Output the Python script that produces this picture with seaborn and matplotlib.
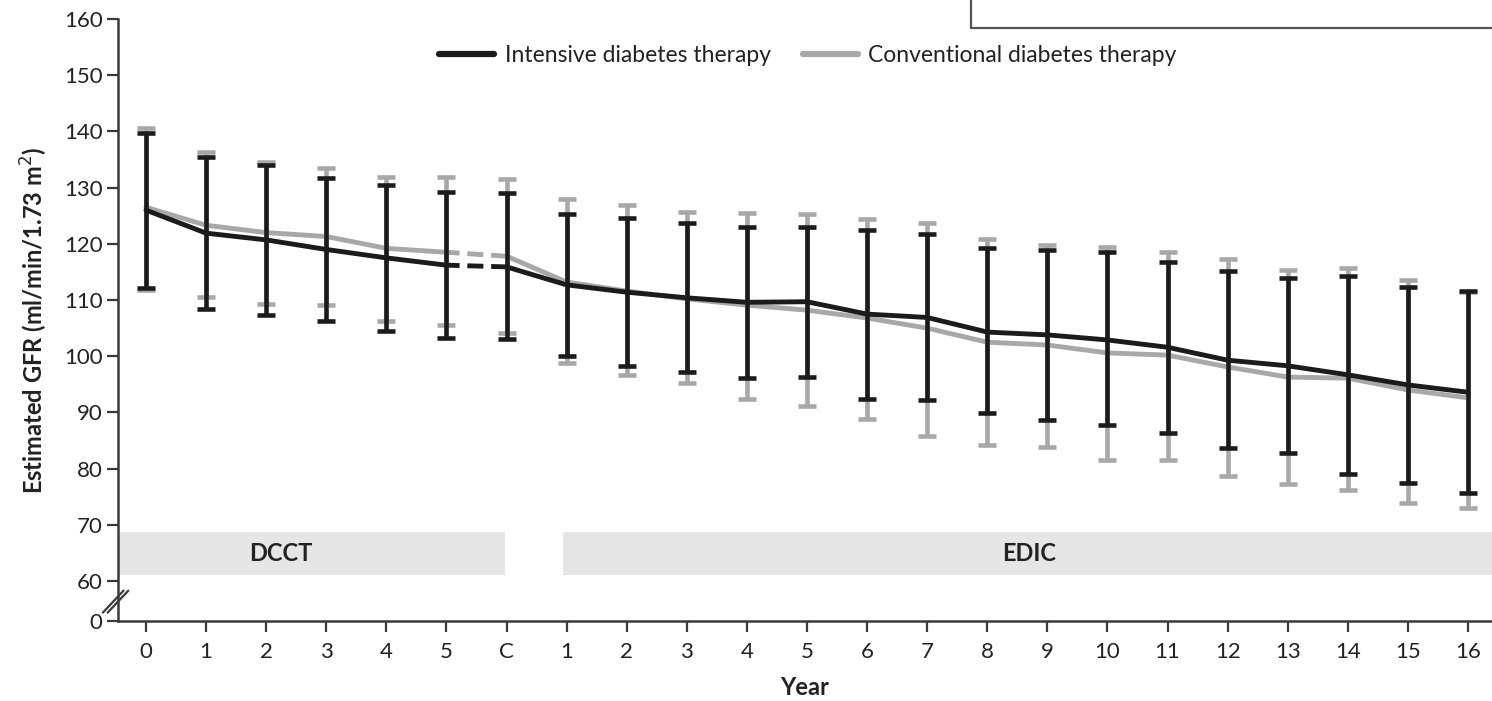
import numpy as np
import pandas as pd
import seaborn as sns
import matplotlib.pyplot as plt
from matplotlib.lines import Line2D
from matplotlib.patches import Rectangle
import matplotlib.transforms as mtransforms

# x positions: DCCT years 0-5, closeout (C), then EDIC years 1-16
year_labels = ["0", "1", "2", "3", "4", "5", "C"] + [str(i) for i in range(1, 17)]

intensive_mean = [126.0, 121.9, 120.7, 119.0, 117.5, 116.2, 115.9, 112.7, 111.4, 110.4, 109.6, 109.7,
                  107.5, 106.9, 104.3, 103.8, 102.9, 101.6, 99.3, 98.3, 96.7, 94.9, 93.6]
intensive_high = [139.7, 135.4, 134.0, 131.7, 130.5, 129.3, 129.0, 125.3, 124.6, 123.7, 123.0, 123.0,
                  122.5, 121.7, 119.3, 118.9, 118.5, 116.8, 115.2, 113.9, 114.3, 112.3, 111.6]
intensive_low = [112.1, 108.4, 107.3, 106.3, 104.5, 103.3, 103.1, 100.0, 98.3, 97.2, 96.1, 96.3,
                 92.4, 92.2, 89.9, 88.6, 87.7, 86.3, 83.6, 82.8, 79.0, 77.4, 75.7]

conventional_mean = [126.5, 123.3, 122.0, 121.3, 119.2, 118.5, 117.8, 113.2, 111.6, 110.2, 109.1, 108.2,
                     106.8, 105.0, 102.5, 102.0, 100.6, 100.2, 98.1, 96.3, 96.1, 94.0, 92.6]
conventional_high = [140.6, 136.3, 134.6, 133.5, 131.9, 131.9, 131.5, 128.0, 126.9, 125.7, 125.5, 125.3,
                     124.4, 123.7, 120.9, 119.8, 119.4, 118.6, 117.3, 115.3, 115.7, 113.6, 111.4]
conventional_low = [111.8, 110.5, 109.3, 109.1, 106.3, 105.6, 104.1, 98.8, 96.7, 95.2, 92.4, 91.1,
                    88.8, 85.8, 84.2, 83.8, 81.5, 81.5, 78.7, 77.3, 76.2, 73.9, 73.0]

y_ticks = [60, 70, 80, 90, 100, 110, 120, 130, 140, 150, 160]
Y_ZERO = 52.9  # where the broken-axis "0" sits

BLACK = "#1b1b1b"
GREY = "#a8a8a8"
AXIS = "#3a3a3a"
TEXT = "#222222"

sns.set_theme(style="white")
plt.rcParams["font.family"] = ["Lato", "DejaVu Sans"]

pos = np.arange(len(year_labels))
df = pd.DataFrame({
    "pos": np.concatenate([pos, pos]),
    "gfr": intensive_mean + conventional_mean,
    "low": intensive_low + conventional_low,
    "high": intensive_high + conventional_high,
    "therapy": ["Intensive"] * len(pos) + ["Conventional"] * len(pos),
})

fig = plt.figure(figsize=(14.92, 7.01), dpi=100)
ax = fig.add_axes([118 / 1492, 1 - 621 / 701, 1 - 118 / 1492, (621 - 19) / 701])

x_left, x_right = -0.466, 22.4
ax.set_xlim(x_left, x_right)
ax.set_ylim(Y_ZERO, 160)

# period bands (DCCT ends at the closeout tick, EDIC starts just before year 1)
ax.add_patch(Rectangle((x_left, 61.0), 5.98 - x_left, 7.7, color="#e6e6e6", lw=0, zorder=0))
ax.add_patch(Rectangle((6.94, 61.0), x_right - 6.94, 7.7, color="#e6e6e6", lw=0, zorder=0))
ax.text(2.25, 64.85, "DCCT", ha="center", va="center", fontsize=17, fontweight="bold", color=TEXT)
ax.text(14.7, 64.85, "EDIC", ha="center", va="center", fontsize=17, fontweight="bold", color=TEXT)

for name, color, z in [("Conventional", GREY, 2), ("Intensive", BLACK, 4)]:
    d = df[df["therapy"] == name]
    ax.errorbar(d["pos"], d["gfr"], yerr=[d["gfr"] - d["low"], d["high"] - d["gfr"]],
                fmt="none", ecolor=color, elinewidth=3.3, capsize=6.5, capthick=3.3, zorder=z)
    solid_a = d[d["pos"] <= 5]
    gap = d[(d["pos"] >= 5) & (d["pos"] <= 6)]
    solid_b = d[d["pos"] >= 6]
    for part, ls in [(solid_a, "-"), (gap, (0.6, (3.3, 1.6))), (solid_b, "-")]:
        sns.lineplot(data=part, x="pos", y="gfr", color=color, lw=3.5, linestyle=ls,
                     ax=ax, legend=False, zorder=z + 1)

ax.set_xticks(pos)
ax.set_xticklabels(year_labels)
ax.set_yticks([Y_ZERO] + y_ticks)
ax.set_yticklabels(["0"] + [str(t) for t in y_ticks])
ax.tick_params(axis="both", direction="out", length=8, width=1.6, color=AXIS,
               labelsize=16, labelcolor=TEXT, pad=3)
ax.tick_params(axis="x", pad=7)
ax.tick_params(left=True, bottom=True)

for side in ["top", "right"]:
    ax.spines[side].set_visible(False)
for side in ["left", "bottom"]:
    ax.spines[side].set_color(AXIS)
    ax.spines[side].set_linewidth(1.8)

ax.set_xlabel("Year", fontsize=17, fontweight="bold", color=TEXT, labelpad=10)
ax.set_ylabel("Estimated GFR (ml/min/1.73 m$^2$)", fontsize=17, fontweight="bold",
              color=TEXT, labelpad=10)

# axis break marks between 0 and 60
trans = mtransforms.blended_transform_factory(ax.transAxes, ax.transData)
for dx in (0.0, 0.0035):
    ax.plot([-0.011 + dx, 0.004 + dx], [54.4, 58.3], color=AXIS, lw=1.6,
            transform=trans, clip_on=False, zorder=6)

handles = [Line2D([], [], color=BLACK, lw=4.5), Line2D([], [], color=GREY, lw=4.5)]
fig.legend(handles, ["Intensive diabetes therapy", "Conventional diabetes therapy"],
           loc="center", bbox_to_anchor=(808 / 1492, 1 - 56 / 701), ncol=2, frameon=False,
           fontsize=16.5, handlelength=2.4, columnspacing=1.4, handletextpad=0.45,
           labelcolor=TEXT)

# cropped box frame in the top right corner
fig.add_artist(Line2D([971 / 1492, 1.0], [1 - 28 / 701, 1 - 28 / 701], color="#555", lw=1.6))
fig.add_artist(Line2D([971 / 1492, 971 / 1492], [1.0, 1 - 28 / 701], color="#555", lw=1.6))

fig.savefig("out.png", dpi=100)
